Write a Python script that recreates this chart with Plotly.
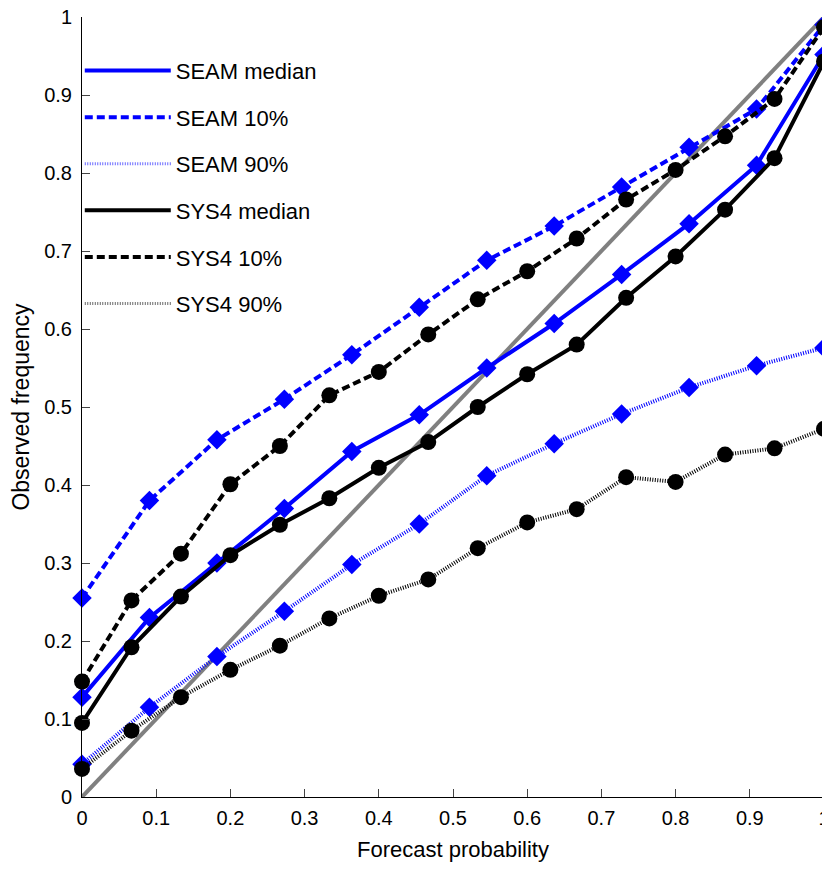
import plotly.graph_objects as go

seam_x = [k / 11 for k in range(12)]
sys4_x = [k / 15 for k in range(16)]

seam_median = [0.128, 0.23, 0.30, 0.37, 0.443, 0.49, 0.55, 0.607, 0.67, 0.735, 0.81, 0.952]
seam_p10 = [0.255, 0.38, 0.458, 0.51, 0.567, 0.628, 0.688, 0.732, 0.782, 0.833, 0.882, 0.99]
seam_p90 = [0.042, 0.115, 0.18, 0.238, 0.298, 0.35, 0.412, 0.453, 0.491, 0.525, 0.553, 0.576]

sys4_median = [0.095, 0.192, 0.257, 0.31, 0.349, 0.383, 0.422, 0.455, 0.5, 0.542, 0.58, 0.64,
               0.693, 0.753, 0.819, 0.943]
sys4_p10 = [0.148, 0.252, 0.312, 0.401, 0.45, 0.515, 0.545, 0.593, 0.638, 0.674, 0.716, 0.766,
            0.804, 0.847, 0.895, 0.987]
sys4_p90 = [0.036, 0.085, 0.128, 0.163, 0.194, 0.229, 0.258, 0.279, 0.319, 0.352, 0.369, 0.41,
            0.404, 0.439, 0.447, 0.472]

diag = [0, 1]
tick_vals = [i / 10 for i in range(11)]
tick_text = ["0", "0.1", "0.2", "0.3", "0.4", "0.5", "0.6", "0.7", "0.8", "0.9", "1"]

BLUE = "#0000ff"
BLACK = "#000000"
GRAY = "#808080"
DASH = "8px,4px"
DOT = "1px,1.5px"

series = [
    ("SEAM median", seam_x, seam_median, BLUE, "solid", 4, "diamond"),
    ("SEAM 10%", seam_x, seam_p10, BLUE, DASH, 4, "diamond"),
    ("SEAM 90%", seam_x, seam_p90, BLUE, DOT, 4, "diamond"),
    ("SYS4 median", sys4_x, sys4_median, BLACK, "solid", 4, "circle"),
    ("SYS4 10%", sys4_x, sys4_p10, BLACK, DASH, 4, "circle"),
    ("SYS4 90%", sys4_x, sys4_p90, BLACK, DOT, 4, "circle"),
]

fig = go.Figure()
fig.add_trace(go.Scatter(x=diag, y=diag, mode="lines", line=dict(color=GRAY, width=4),
                         showlegend=False, hoverinfo="skip"))

for name, xs, ys, col, dash, w, sym in series:
    fig.add_trace(go.Scatter(
        x=xs, y=ys, mode="lines+markers", name=name, showlegend=False,
        line=dict(color=col, width=w, dash=dash),
        marker=dict(symbol=sym, size=16 if sym == "circle" else 15, color=col),
        cliponaxis=False,
    ))

for i, (name, xs, ys, col, dash, w, sym) in enumerate(series):
    fig.add_trace(go.Scatter(
        x=[None], y=[None], mode="lines", name=name, legendgroup=f"g{i}",
        line=dict(color=col, width=w if dash != DOT else 3, dash=dash),
        opacity=1 if dash != DOT else 0.6,
    ))

# the page body adds an 8px margin, so the figure is sized/offset to compensate
fig.update_layout(
    width=822, height=854,
    margin=dict(l=74, r=6, t=9, b=65),
    plot_bgcolor="white", paper_bgcolor="white",
    font=dict(family="Liberation Sans, Arial, sans-serif", size=20, color="black"),
    legend=dict(x=-0.003, y=0.958, xanchor="left", yanchor="top",
                bgcolor="rgba(0,0,0,0)", borderwidth=0,
                itemwidth=86, tracegroupgap=15,
                font=dict(size=22)),
    xaxis=dict(range=[0, 1], tickvals=tick_vals, ticktext=tick_text, ticks="inside",
               ticklen=8, showline=True, linecolor="black", linewidth=1, showgrid=False,
               zeroline=False, automargin=False, ticklabelstandoff=3,
               ticklabeloverflow="allow",
               title=dict(text="Forecast probability", standoff=17, font=dict(size=22)),
               tickfont=dict(size=20)),
    yaxis=dict(range=[0, 1], tickvals=tick_vals, ticktext=tick_text, ticks="inside",
               ticklen=8, showline=True, linecolor="black", linewidth=1, showgrid=False,
               zeroline=False, automargin=False, ticklabelstandoff=5,
               ticklabeloverflow="allow",
               title=dict(text="Observed frequency", standoff=10, font=dict(size=23)),
               tickfont=dict(size=20)),
)

fig.write_html("out.html")
